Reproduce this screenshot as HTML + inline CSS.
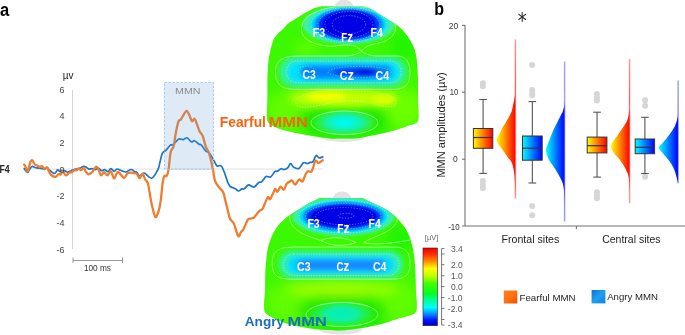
<!DOCTYPE html>
<html><head><meta charset="utf-8">
<style>
html,body{margin:0;padding:0;background:#fff;}
svg{display:block;font-family:"Liberation Sans",sans-serif;will-change:transform;}
.el{fill:#fff;font-weight:700;font-size:12.4px;}
.ax{fill:#444;font-size:9px;}
</style></head><body>
<svg width="685" height="335" viewBox="0 0 685 335">
<defs>
<radialGradient id="gTop1"><stop offset="0" stop-color="#0000e0"/><stop offset="0.5" stop-color="#0004ec"/><stop offset="0.6" stop-color="#0030ff"/><stop offset="0.7" stop-color="#0088ff"/><stop offset="0.8" stop-color="#00d8f8"/><stop offset="0.88" stop-color="#30f0a0"/><stop offset="0.95" stop-color="#40f040" stop-opacity="0.6"/><stop offset="1" stop-color="#40f000" stop-opacity="0"/></radialGradient>
<radialGradient id="gTop2"><stop offset="0" stop-color="#0000e0"/><stop offset="0.66" stop-color="#0004ec"/><stop offset="0.75" stop-color="#0040ff"/><stop offset="0.83" stop-color="#00b0ff"/><stop offset="0.89" stop-color="#00e8e0"/><stop offset="0.95" stop-color="#30f060" stop-opacity="0.7"/><stop offset="1" stop-color="#40f000" stop-opacity="0"/></radialGradient>
<radialGradient id="gMid1"><stop offset="0" stop-color="#0020f0"/><stop offset="0.45" stop-color="#0060ff"/><stop offset="0.65" stop-color="#00c0ff"/><stop offset="0.82" stop-color="#20f0a0" stop-opacity="0.7"/><stop offset="1" stop-color="#40f000" stop-opacity="0"/></radialGradient>
<radialGradient id="gMid2"><stop offset="0" stop-color="#1070ff"/><stop offset="0.45" stop-color="#1880ff"/><stop offset="0.65" stop-color="#00d0ff"/><stop offset="0.82" stop-color="#20f0a0" stop-opacity="0.7"/><stop offset="1" stop-color="#40f000" stop-opacity="0"/></radialGradient>
<radialGradient id="gYel"><stop offset="0" stop-color="#e8ff00"/><stop offset="0.5" stop-color="#c8ff00" stop-opacity="0.8"/><stop offset="1" stop-color="#60f000" stop-opacity="0"/></radialGradient>
<radialGradient id="gYel2"><stop offset="0" stop-color="#a8ff00"/><stop offset="0.5" stop-color="#90ff00" stop-opacity="0.7"/><stop offset="1" stop-color="#60f000" stop-opacity="0"/></radialGradient>
<radialGradient id="gCyan1"><stop offset="0" stop-color="#00faf0"/><stop offset="0.22" stop-color="#00f8e4"/><stop offset="0.5" stop-color="#18f0a8"/><stop offset="0.75" stop-color="#30f050" stop-opacity="0.8"/><stop offset="1" stop-color="#40f000" stop-opacity="0"/></radialGradient>
<radialGradient id="gCyan2"><stop offset="0" stop-color="#00f0c0"/><stop offset="0.45" stop-color="#10f0a0"/><stop offset="0.8" stop-color="#30f040" stop-opacity="0.6"/><stop offset="1" stop-color="#40f000" stop-opacity="0"/></radialGradient>
<filter id="b2" x="-50%" y="-50%" width="200%" height="200%"><feGaussianBlur stdDeviation="1.6"/></filter>
<filter id="b15" x="-50%" y="-50%" width="200%" height="200%"><feGaussianBlur stdDeviation="1.1"/></filter>
<filter id="b3" x="-50%" y="-50%" width="200%" height="200%"><feGaussianBlur stdDeviation="2.5"/></filter>
<filter id="b5" x="-50%" y="-50%" width="200%" height="200%"><feGaussianBlur stdDeviation="4"/></filter>
<filter id="b6" x="-50%" y="-50%" width="200%" height="200%"><feGaussianBlur stdDeviation="6"/></filter>
<linearGradient id="gCB" x1="0" y1="0" x2="0" y2="1"><stop offset="0" stop-color="#f00000"/><stop offset="0.064" stop-color="#ff2000"/><stop offset="0.16" stop-color="#ff8000"/><stop offset="0.265" stop-color="#ffff00"/><stop offset="0.36" stop-color="#c0ff00"/><stop offset="0.457" stop-color="#40ff00"/><stop offset="0.59" stop-color="#00ff20"/><stop offset="0.64" stop-color="#00ff70"/><stop offset="0.765" stop-color="#00ffff"/><stop offset="0.86" stop-color="#0080ff"/><stop offset="0.93" stop-color="#0010ff"/><stop offset="1" stop-color="#0000d0"/></linearGradient>
<linearGradient id="gWarm" x1="0" y1="0" x2="1" y2="0"><stop offset="0" stop-color="#ffff00"/><stop offset="1" stop-color="#ff0000"/></linearGradient>
<linearGradient id="gCool" x1="0" y1="0" x2="1" y2="0"><stop offset="0" stop-color="#00ffff"/><stop offset="1" stop-color="#0000ff"/></linearGradient>
<linearGradient id="gLegO" x1="0" y1="0" x2="1" y2="1"><stop offset="0" stop-color="#ff8020"/><stop offset="0.5" stop-color="#ff7010"/><stop offset="1" stop-color="#f05000"/></linearGradient>
<linearGradient id="gLegB" x1="0" y1="0" x2="1" y2="1"><stop offset="0" stop-color="#1070d0"/><stop offset="0.5" stop-color="#20a0f0"/><stop offset="1" stop-color="#1080e0"/></linearGradient>
</defs>

<!-- panel a labels -->
<text x="0" y="15.8" font-size="18" font-weight="700" fill="#000" textLength="9.2" lengthAdjust="spacingAndGlyphs">a</text>
<text x="62.8" y="78.6" font-size="10.5" fill="#222" textLength="10.8" lengthAdjust="spacingAndGlyphs">µv</text>
<text x="-0.6" y="173.4" font-size="10" font-weight="700" fill="#222" textLength="10.2" lengthAdjust="spacingAndGlyphs">F4</text>

<line x1="72.5" y1="90" x2="72.5" y2="249" stroke="#d4d4d4" stroke-width="1"/>
<line x1="24" y1="169" x2="323" y2="169" stroke="#e0e0e0" stroke-width="1"/>
<!-- scale bar -->
<g stroke="#999" stroke-width="1"><line x1="73" y1="260.5" x2="122.5" y2="260.5"/><line x1="73" y1="257.5" x2="73" y2="263"/><line x1="122.5" y1="257.5" x2="122.5" y2="263"/></g>
<text x="83.9" y="271.4" font-size="9" fill="#333" textLength="27" lengthAdjust="spacingAndGlyphs">100 ms</text>

<!-- topomaps -->
<ellipse cx="344" cy="6.5" rx="9" ry="7" fill="#e2e2e2"/>
<ellipse cx="343" cy="137" rx="22" ry="5" fill="#e4e4e4"/>
<clipPath id="head1"><path d="M322.0,6.3 C324.3,6.3 337.3,6.3 342.0,6.3 C346.7,6.3 358.9,6.1 362.0,6.3 C365.1,6.5 367.1,7.2 369.0,8.0 C370.9,8.8 375.8,11.7 377.9,13.0 C380.0,14.3 384.8,17.5 386.9,18.8 C389.0,20.1 394.0,23.0 395.8,24.2 C397.6,25.4 400.3,27.7 402.0,29.5 C403.7,31.3 408.5,37.6 410.0,40.0 C411.5,42.4 413.9,47.7 414.7,50.0 C415.5,52.3 416.5,57.7 416.8,60.0 C417.1,62.3 417.5,67.7 417.6,70.0 C417.7,72.3 418.0,76.5 418.0,80.0 C418.0,83.5 418.0,95.2 418.0,100.0 C418.0,104.8 419.1,118.0 418.0,121.0 C416.9,124.0 411.4,124.4 408.8,125.5 C406.2,126.6 398.4,129.3 395.3,130.2 C392.2,131.1 385.0,132.9 381.9,133.6 C378.8,134.3 371.2,135.8 368.4,136.3 C365.6,136.8 360.7,138.0 357.7,138.3 C354.7,138.6 345.8,138.6 342.5,138.6 C339.2,138.6 332.6,138.8 329.3,138.5 C326.0,138.2 317.7,136.9 313.8,136.3 C309.9,135.7 300.0,134.0 295.8,133.1 C291.6,132.2 281.2,129.7 277.9,128.3 C274.6,126.9 268.6,124.3 267.4,121.0 C266.2,117.7 267.4,104.8 267.4,100.0 C267.4,95.2 267.4,83.5 267.4,80.0 C267.4,76.5 267.6,72.3 267.7,70.0 C267.8,67.7 268.3,62.3 268.6,60.0 C268.9,57.7 269.9,52.3 270.5,50.0 C271.1,47.7 272.5,41.9 273.4,40.0 C274.3,38.1 276.9,34.7 278.0,33.5 C279.1,32.3 281.3,30.6 282.5,29.5 C283.7,28.4 286.2,25.1 287.9,23.7 C289.6,22.3 294.8,19.2 296.9,17.9 C299.0,16.6 303.7,13.7 305.8,12.5 C307.9,11.3 312.9,8.7 314.8,8.0 C316.7,7.3 321.2,6.5 322.0,6.3 Z"/></clipPath>
<g clip-path="url(#head1)">
<rect x="260" y="0" width="165" height="145" fill="#3cf800"/>
<g filter="url(#b6)"><ellipse cx="292" cy="110" rx="26" ry="20" fill="#64fc00"/><ellipse cx="402" cy="108" rx="22" ry="20" fill="#6cff00"/><ellipse cx="404" cy="45" rx="14" ry="16" fill="#24f400"/><ellipse cx="306" cy="48" rx="12" ry="5" fill="#70ff00"/><ellipse cx="344" cy="120" rx="46" ry="17" fill="#18e800"/></g>
<g filter="url(#b5)"><ellipse cx="343" cy="98" rx="54" ry="10" fill="#c4ff00"/></g>
<g filter="url(#b3)"><ellipse cx="326" cy="96.5" rx="20" ry="5" fill="#f0ff00"/><ellipse cx="384" cy="100" rx="12" ry="4.5" fill="#e0ff00"/></g>
<g filter="url(#b15)"><ellipse cx="348.7" cy="24.8" rx="46" ry="19.5" fill="#40f0a0"/><ellipse cx="348.7" cy="24.7" rx="39.5" ry="17.4" fill="#00e4f0"/><ellipse cx="348.7" cy="24.6" rx="35" ry="16.4" fill="#0090ff"/><ellipse cx="348.7" cy="24.6" rx="31" ry="15.6" fill="#0030ff"/><ellipse cx="348.7" cy="24.6" rx="26.5" ry="13.8" fill="#0000e4"/></g>
<g filter="url(#b3)"><rect x="279" y="57" width="128" height="30" rx="15" fill="#30f0a0"/><rect x="287" y="61.5" width="113" height="21" rx="10.5" fill="#00e0ff"/><rect x="300" y="65" width="92" height="14" rx="7" fill="#0080ff"/><ellipse cx="355" cy="72" rx="22" ry="6" fill="#0040f8"/><ellipse cx="367" cy="72.5" rx="11" ry="5" fill="#0010e0"/></g>
<ellipse cx="344.4" cy="122.5" rx="36" ry="15" fill="url(#gCyan1)"/>
<g fill="none" stroke="#fff" stroke-width="0.6" stroke-opacity="0.75"><path d="M301.5,30 C300,12 330,6 348,6 C370,6 396,12 395.5,28 C395,38 385,42 375,44 C368,45 364,48 361.7,51.2 C359,48 355,45 348,45 C338,45 333,47 328,46 C315,45 302,40 301.5,30 Z"/><path d="M275.5,72 C275.5,60 282,56 300,56 L345,56 C352,56 358,54 361.7,51.2 C365,54 370,56 378,56 L397,56 C406,56 410,62 410,72 C410,84 406,89.4 393,89.4 L295,89.4 C281,89.4 275.5,84 275.5,72 Z"/><ellipse cx="344.4" cy="122.8" rx="33.5" ry="11.8"/></g>
<g fill="none" stroke="#fff" stroke-width="0.7" stroke-opacity="0.6" stroke-dasharray="1.2 1.6"><ellipse cx="348.9" cy="24.6" rx="16.8" ry="9"/><ellipse cx="348.9" cy="24.6" rx="24" ry="13"/><ellipse cx="348.9" cy="24.6" rx="31" ry="15.7"/><ellipse cx="348.9" cy="24.6" rx="38" ry="17.2"/><rect x="286.4" y="61" width="114.9" height="21.8" rx="10.9"/><ellipse cx="359.7" cy="71.9" rx="31.7" ry="5.5"/><ellipse cx="306.6" cy="71.5" rx="8.2" ry="5.5"/><path d="M295.5,103 C295,95 315,90.5 335,90.5 C365,90.5 396,93 396,102 C396,108 388,108 375,104 C360,100 345,100 330,103 C315,107 296,110 295.5,103 Z"/></g>
</g>
<text x="312.8" y="37" class="el" textLength="12.5" lengthAdjust="spacingAndGlyphs">F3</text>
<text x="341.3" y="41.5" class="el" textLength="11.700000000000001" lengthAdjust="spacingAndGlyphs">F<tspan font-size="15">z</tspan></text>
<text x="370.4" y="37.3" class="el" textLength="12.4" lengthAdjust="spacingAndGlyphs">F4</text>
<text x="302.5" y="79.4" class="el" textLength="13.3" lengthAdjust="spacingAndGlyphs">C3</text>
<text x="339.7" y="79.8" class="el" textLength="14.200000000000001" lengthAdjust="spacingAndGlyphs">C<tspan font-size="15">z</tspan></text>
<text x="375.4" y="79.5" class="el" textLength="13.8" lengthAdjust="spacingAndGlyphs">C4</text>
<ellipse cx="342" cy="198.5" rx="9" ry="7" fill="#e2e2e2"/>
<ellipse cx="340.5" cy="329" rx="22" ry="5.5" fill="#e4e4e4"/>
<clipPath id="head2"><path d="M319.7,198.1 C322.1,198.1 335.2,198.1 340.0,198.1 C344.8,198.1 357.9,197.9 361.0,198.1 C364.1,198.3 365.2,199.4 367.0,200.2 C368.8,201.0 374.3,203.7 376.5,204.8 C378.7,205.9 384.3,208.3 386.2,209.4 C388.1,210.5 391.1,212.9 392.5,214.0 C393.9,215.1 396.4,217.4 397.9,219.1 C399.4,220.8 404.2,226.5 405.6,228.8 C407.0,231.1 409.3,236.2 410.1,238.5 C410.9,240.8 412.3,246.0 412.8,248.3 C413.3,250.6 414.1,255.5 414.4,258.0 C414.7,260.5 415.2,266.3 415.4,270.0 C415.6,273.7 415.8,285.1 415.9,290.0 C416.0,294.9 417.8,308.6 415.9,311.9 C414.0,315.2 403.4,316.8 399.8,318.1 C396.2,319.4 388.4,322.0 384.9,323.0 C381.4,324.0 372.9,325.9 369.9,326.5 C366.9,327.1 362.9,327.8 359.5,328.3 C356.1,328.8 345.7,330.4 340.5,330.5 C335.3,330.6 319.5,329.5 314.7,329.0 C309.9,328.5 302.5,327.2 299.0,326.5 C295.5,325.8 288.9,324.6 284.9,323.0 C280.9,321.4 267.4,316.5 265.1,312.6 C262.8,308.8 265.1,295.0 265.1,290.0 C265.1,285.0 265.2,273.7 265.4,270.0 C265.6,266.3 266.3,260.3 266.5,258.0 C266.7,255.7 267.2,251.7 267.5,250.0 C267.8,248.3 268.4,245.6 269.0,243.8 C269.6,242.0 271.5,236.9 272.5,234.8 C273.5,232.7 276.2,227.9 277.9,225.8 C279.6,223.7 284.2,219.0 286.9,216.9 C289.6,214.8 298.6,209.5 301.2,207.9 C303.8,206.3 307.3,203.9 309.0,203.0 C310.7,202.1 314.4,200.6 315.6,200.0 C316.8,199.4 319.2,198.3 319.7,198.1 Z"/></clipPath>
<g clip-path="url(#head2)">
<rect x="255" y="190" width="170" height="145" fill="#3cf800"/>
<g filter="url(#b6)"><ellipse cx="291" cy="302" rx="26" ry="20" fill="#60fc00"/><ellipse cx="398" cy="300" rx="22" ry="20" fill="#60fc00"/><ellipse cx="401" cy="237" rx="14" ry="16" fill="#24f400"/><ellipse cx="342" cy="312" rx="44" ry="18" fill="#18e800"/><ellipse cx="342" cy="288" rx="55" ry="7" fill="#a8ff00"/></g>
<g filter="url(#b15)"><ellipse cx="343.4" cy="216.6" rx="51" ry="19.5" fill="#40f0a0"/><ellipse cx="343.4" cy="216.6" rx="45.5" ry="16.8" fill="#00e4f0"/><ellipse cx="343.4" cy="216.4" rx="41" ry="14.6" fill="#0090ff"/><ellipse cx="343.4" cy="216.3" rx="37.7" ry="12.8" fill="#0030ff"/><ellipse cx="343.8" cy="216.2" rx="33" ry="10.8" fill="#0000e4"/></g>
<g filter="url(#b3)"><rect x="279" y="251" width="124" height="27" rx="13" fill="#30f0b0"/><rect x="287" y="256" width="108" height="18" rx="9" fill="#00d8ff"/><rect x="297" y="259.5" width="88" height="11" rx="5.5" fill="#1888ff"/></g>
<ellipse cx="342" cy="314" rx="36" ry="15" fill="url(#gCyan2)"/>
<g fill="none" stroke="#fff" stroke-width="0.6" stroke-opacity="0.75"><path d="M296,202 C291,208 289,214 290,220 C292,229 302,235 320.9,240.4 C330,236.5 345,236.5 355.7,242.5 C345,247 330,246 320.9,240.4"/><path d="M391,202 C396,208 398,215 397,221 C395,228 385,233 375,237 C370,239 366,241 363.8,242.5 C372,245 390,244 410,240"/><path d="M272.2,263 C272.2,251 278,247 295,247 L395,247 C406,247 410,253 410,263 C410,275 406,279.1 393,279.1 L290,279.1 C277,279.1 272.2,275 272.2,263 Z"/><ellipse cx="342" cy="314.5" rx="36" ry="12"/></g>
<g fill="none" stroke="#fff" stroke-width="0.7" stroke-opacity="0.6" stroke-dasharray="1.2 1.6"><ellipse cx="346" cy="215.8" rx="7.8" ry="2.5"/><ellipse cx="344.2" cy="216.2" rx="28.7" ry="8.6"/><ellipse cx="343.4" cy="216.3" rx="37.7" ry="12.8"/><ellipse cx="343.4" cy="216.6" rx="44.3" ry="16.4"/><rect x="283.1" y="254" width="116" height="21.4" rx="10.7"/></g>
</g>
<text x="307.4" y="228.1" class="el" textLength="12.3" lengthAdjust="spacingAndGlyphs">F3</text>
<text x="337.3" y="232.7" class="el" textLength="12.200000000000001" lengthAdjust="spacingAndGlyphs">F<tspan font-size="15">z</tspan></text>
<text x="368.5" y="228.1" class="el" textLength="12.200000000000001" lengthAdjust="spacingAndGlyphs">F4</text>
<text x="297.09999999999997" y="271" class="el" textLength="13.5" lengthAdjust="spacingAndGlyphs">C3</text>
<text x="336.4" y="271" class="el" textLength="12.9" lengthAdjust="spacingAndGlyphs">C<tspan font-size="15">z</tspan></text>
<text x="373.0" y="271" class="el" textLength="13.5" lengthAdjust="spacingAndGlyphs">C4</text>

<!-- traces -->
<path d="M24.2,168.6 C24.7,169.2 26.4,172.2 27.3,172.4 C28.2,172.6 28.6,170.8 29.4,169.8 C30.2,168.8 30.9,166.8 32.0,166.5 C33.0,166.2 34.0,167.3 35.7,167.7 C37.4,168.0 40.9,168.3 42.4,168.6 C43.9,168.9 43.7,169.5 44.5,169.3 C45.3,169.2 46.3,167.6 47.1,167.7 C47.9,167.8 48.0,168.8 49.2,169.8 C50.4,170.8 53.0,173.5 54.4,173.5 C55.8,173.5 56.7,170.2 57.6,169.8 C58.5,169.5 59.0,171.3 59.7,171.4 C60.4,171.5 60.9,170.5 61.8,170.4 C62.7,170.3 63.9,170.6 64.9,170.9 C65.9,171.2 66.5,172.2 67.6,172.2 C68.7,172.2 70.0,171.2 71.3,170.7 C72.6,170.2 74.0,169.5 75.4,169.1 C76.8,168.7 78.2,168.9 79.6,168.4 C81.0,167.9 82.8,166.5 83.8,166.3 C84.8,166.1 85.0,166.5 85.9,167.0 C86.8,167.5 88.0,168.8 89.0,169.1 C90.0,169.4 91.0,168.5 92.1,168.6 C93.1,168.7 94.2,169.7 95.3,169.6 C96.3,169.5 97.4,167.8 98.4,168.0 C99.4,168.2 100.5,170.4 101.5,170.7 C102.5,171.0 103.7,169.4 104.7,169.6 C105.8,169.8 106.8,171.9 107.8,171.7 C108.8,171.5 109.9,168.6 110.9,168.6 C112.0,168.6 113.1,171.4 114.1,171.5 C115.1,171.6 115.8,169.2 117.0,169.0 C118.2,168.8 119.5,170.0 121.0,170.5 C122.5,171.0 124.3,172.2 126.0,172.0 C127.7,171.8 129.6,169.6 131.0,169.5 C132.4,169.4 133.5,171.0 134.5,171.5 C135.5,172.0 136.1,171.8 137.0,172.5 C137.9,173.2 138.5,175.9 139.7,176.0 C140.9,176.1 142.2,172.6 144.2,173.0 C146.2,173.4 149.3,178.8 151.6,178.2 C153.9,177.6 156.5,172.3 157.9,169.6 C159.3,166.9 159.2,164.8 160.0,162.0 C160.8,159.2 161.4,155.1 162.4,153.1 C163.4,151.1 164.7,151.5 166.1,150.1 C167.5,148.7 169.5,145.8 170.6,144.9 C171.7,144.0 171.4,145.9 172.8,144.9 C174.2,143.9 177.1,139.9 178.8,139.0 C180.6,138.1 181.9,139.9 183.3,139.7 C184.7,139.5 185.6,137.4 187.0,137.8 C188.4,138.2 190.2,141.4 191.5,141.9 C192.8,142.4 193.2,140.3 194.5,140.7 C195.8,141.1 197.9,143.5 199.0,144.2 C200.1,144.9 200.1,143.8 201.2,144.9 C202.3,146.0 204.4,149.7 205.7,150.9 C206.9,152.2 207.5,151.0 208.7,152.4 C209.9,153.8 211.7,156.9 213.1,159.1 C214.5,161.3 215.8,164.7 216.9,165.8 C218.0,166.9 219.1,165.4 219.9,165.5 C220.7,165.6 221.1,165.5 221.8,166.6 C222.5,167.7 223.6,170.4 224.2,172.0 C224.8,173.6 225.0,174.2 225.6,175.9 C226.2,177.6 226.9,180.4 227.7,182.2 C228.4,183.9 229.2,185.5 230.1,186.4 C230.9,187.3 231.9,187.2 232.8,187.6 C233.7,188.0 234.6,188.2 235.5,188.8 C236.4,189.4 237.4,191.0 238.5,191.0 C239.6,191.0 240.9,189.2 241.8,188.9 C242.8,188.6 243.1,189.6 244.2,188.9 C245.3,188.2 247.2,185.4 248.4,184.9 C249.6,184.4 250.3,185.8 251.3,186.1 C252.3,186.4 253.1,187.5 254.3,186.9 C255.5,186.3 257.5,183.3 258.7,182.5 C259.9,181.7 260.4,182.8 261.6,181.8 C262.8,180.8 264.6,177.4 266.1,176.6 C267.6,175.8 269.1,177.9 270.6,177.0 C272.1,176.1 274.0,172.2 275.1,171.3 C276.2,170.4 276.3,171.7 277.3,171.3 C278.3,170.9 279.9,169.0 281.0,168.7 C282.1,168.4 282.9,169.8 284.0,169.6 C285.1,169.4 286.7,168.6 287.8,167.6 C288.9,166.6 289.7,163.6 290.7,163.6 C291.7,163.6 292.3,166.5 293.7,167.3 C295.1,168.1 297.4,169.2 299.0,168.4 C300.6,167.6 302.0,163.5 303.4,162.7 C304.8,161.9 306.1,163.6 307.2,163.6 C308.3,163.6 309.1,162.7 310.1,162.4 C311.1,162.1 312.1,162.8 313.1,161.6 C314.1,160.4 315.1,156.0 316.1,155.4 C317.1,154.8 318.0,157.7 319.1,157.9 C320.2,158.2 322.2,157.1 322.8,156.9" fill="none" stroke="#1c74c8" stroke-width="1.7" stroke-linejoin="round" stroke-linecap="round"/>
<path d="M24.2,164.6 C24.4,165.0 25.2,166.1 25.7,167.2 C26.2,168.3 26.8,171.3 27.3,171.4 C27.8,171.5 28.4,169.3 28.9,167.7 C29.4,166.1 29.9,163.2 30.4,162.0 C30.9,160.8 31.5,160.1 32.0,160.2 C32.5,160.3 33.1,161.8 33.6,162.5 C34.1,163.2 34.4,164.1 35.1,164.6 C35.8,165.1 36.9,165.3 37.7,165.7 C38.5,166.1 39.1,167.1 39.8,167.2 C40.5,167.3 41.1,165.9 41.9,166.2 C42.7,166.5 43.6,168.6 44.5,168.8 C45.4,169.0 46.3,167.0 47.1,167.5 C47.9,168.0 48.5,170.7 49.2,171.9 C49.9,173.2 50.2,174.2 51.3,175.0 C52.3,175.8 54.3,177.1 55.5,176.9 C56.7,176.7 57.7,174.4 58.6,174.0 C59.5,173.6 60.0,174.9 60.7,174.5 C61.4,174.1 62.0,171.3 62.8,171.4 C63.6,171.5 64.7,174.4 65.4,175.0 C66.1,175.6 66.5,175.2 67.1,174.8 C67.7,174.4 68.4,173.1 69.2,172.7 C70.0,172.3 70.9,172.6 71.8,172.2 C72.7,171.8 73.6,170.4 74.4,170.1 C75.2,169.8 75.8,170.7 76.5,170.4 C77.2,170.1 77.8,168.5 78.6,168.4 C79.4,168.3 80.3,170.2 81.2,170.1 C82.1,170.0 83.0,167.7 83.8,168.0 C84.6,168.3 85.1,170.6 85.9,171.7 C86.7,172.8 87.5,174.2 88.5,174.3 C89.5,174.4 91.1,173.1 92.1,172.2 C93.0,171.3 93.5,170.0 94.2,169.1 C94.9,168.2 95.6,166.7 96.3,166.7 C97.0,166.7 97.6,167.6 98.4,169.1 C99.2,170.6 100.0,174.9 101.0,175.4 C102.0,175.9 103.0,172.2 104.1,172.2 C105.1,172.2 106.2,175.6 107.3,175.4 C108.4,175.2 109.8,170.7 110.9,171.2 C112.0,171.7 112.9,178.4 114.1,178.5 C115.3,178.6 116.3,172.1 118.0,172.0 C119.7,171.9 122.3,177.8 124.0,178.0 C125.7,178.2 126.3,173.8 128.0,173.0 C129.7,172.2 132.6,172.9 134.0,173.0 C135.4,173.1 135.8,172.8 136.7,173.7 C137.6,174.6 138.7,178.2 139.7,178.2 C140.7,178.2 141.8,173.6 142.7,173.7 C143.6,173.8 144.0,177.4 144.9,179.0 C145.8,180.6 147.0,180.7 147.9,183.4 C148.8,186.1 149.3,191.4 150.1,195.4 C150.8,199.4 151.5,203.7 152.4,207.3 C153.3,210.9 154.4,216.2 155.4,217.0 C156.4,217.8 157.5,214.4 158.4,211.8 C159.3,209.2 159.9,206.3 160.6,201.3 C161.3,196.3 162.2,186.1 162.8,181.9 C163.4,177.7 163.7,177.0 164.3,176.0 C164.9,175.0 165.9,177.0 166.6,176.0 C167.3,175.0 167.8,173.9 168.5,170.0 C169.2,166.1 169.8,156.3 170.6,152.4 C171.4,148.5 172.7,149.6 173.6,146.4 C174.5,143.2 175.0,137.2 175.8,133.0 C176.6,128.8 177.7,123.5 178.5,121.3 C179.3,119.1 179.8,120.9 180.7,119.8 C181.6,118.7 182.7,116.1 183.7,114.6 C184.7,113.1 185.7,110.7 186.7,110.9 C187.7,111.1 188.8,114.3 189.7,116.0 C190.6,117.7 191.2,120.8 192.0,121.3 C192.8,121.8 193.8,118.5 194.5,118.7 C195.2,119.0 195.6,120.8 196.4,122.8 C197.2,124.8 198.4,128.8 199.4,131.0 C200.4,133.2 201.6,133.4 202.7,136.0 C203.8,138.6 204.7,143.7 205.7,146.4 C206.7,149.1 207.8,150.2 208.7,152.4 C209.6,154.7 210.2,156.9 210.9,159.9 C211.6,162.9 212.4,166.8 213.1,170.3 C213.8,173.9 214.0,178.3 215.1,181.2 C216.2,184.1 218.2,186.0 219.6,187.9 C221.0,189.8 222.3,190.2 223.3,192.4 C224.3,194.6 224.6,197.8 225.5,201.3 C226.4,204.8 227.8,210.4 228.5,213.3 C229.2,216.2 229.1,216.9 230.0,218.6 C230.9,220.3 232.8,221.6 233.7,223.3 C234.6,225.0 234.9,226.8 235.7,229.0 C236.5,231.2 237.5,235.8 238.4,236.3 C239.3,236.8 240.1,233.4 241.0,232.2 C241.9,231.0 242.5,231.1 243.6,229.0 C244.7,226.9 246.7,221.3 247.8,219.6 C248.9,217.9 249.4,218.9 250.4,218.6 C251.4,218.2 252.9,218.4 254.0,217.5 C255.1,216.6 256.2,214.5 257.2,213.4 C258.2,212.3 258.9,211.5 259.8,210.7 C260.7,209.9 262.0,209.8 262.8,208.6 C263.6,207.4 264.0,205.3 264.9,203.4 C265.8,201.5 267.1,197.8 268.0,197.1 C268.9,196.4 269.2,199.9 270.1,199.2 C271.0,198.5 272.3,194.7 273.2,193.0 C274.1,191.3 274.6,189.0 275.3,188.8 C276.0,188.6 276.5,192.2 277.4,191.9 C278.3,191.6 279.4,187.0 280.5,186.7 C281.6,186.3 282.6,190.3 283.7,189.8 C284.8,189.3 285.8,185.0 286.8,183.6 C287.8,182.2 289.0,182.0 289.9,181.5 C290.8,181.0 291.1,179.9 292.0,180.4 C292.9,180.9 294.0,184.8 295.2,184.6 C296.4,184.4 298.1,179.9 299.3,179.4 C300.5,178.9 301.4,182.4 302.5,181.5 C303.6,180.6 304.7,175.9 305.6,174.2 C306.5,172.5 306.9,171.8 307.9,171.3 C308.9,170.8 310.4,173.0 311.6,171.3 C312.9,169.6 314.3,162.3 315.4,160.9 C316.5,159.5 317.2,163.2 318.4,163.1 C319.6,163.0 322.1,160.6 322.8,160.1" fill="none" stroke="#ef7d2f" stroke-width="2.3" stroke-linejoin="round" stroke-linecap="round"/>
<g class="ax" text-anchor="end">
<text x="64.5" y="92.5">6</text>
<text x="64.5" y="119">4</text>
<text x="64.5" y="146">2</text>
<text x="64.5" y="172.5">0</text>
<text x="64.5" y="199">-2</text>
<text x="64.5" y="225.5">-4</text>
<text x="64.5" y="253">-6</text>
</g>
<!-- MMN box (semi transparent overlay) -->
<rect x="164.5" y="82.5" width="49" height="86.8" fill="#5b9bd5" fill-opacity="0.2" stroke="#abc9ea" stroke-width="1" stroke-dasharray="2.5 1.5"/>
<text x="175" y="94.3" font-size="9.6" fill="#8a8a8a" textLength="25.5" lengthAdjust="spacingAndGlyphs">MMN</text>

<g font-size="14" font-weight="700" fill="#f8640e"><text x="219.7" y="126.6" textLength="46.3" lengthAdjust="spacingAndGlyphs">Fearful</text><text x="268.6" y="126.6" textLength="39.3" lengthAdjust="spacingAndGlyphs">MMN</text></g>
<g font-size="13.6" font-weight="700" fill="#1a6cc0"><text x="244.8" y="325.5" textLength="39.3" lengthAdjust="spacingAndGlyphs">Angry</text><text x="287.6" y="325.5" textLength="39.2" lengthAdjust="spacingAndGlyphs">MMN</text></g>

<!-- colorbar -->
<text x="424.8" y="240" font-size="8" fill="#666" textLength="13.5" lengthAdjust="spacingAndGlyphs">[µV]</text>
<rect x="423" y="248" width="14.4" height="77.7" fill="url(#gCB)" stroke="#222" stroke-width="0.6"/>
<g stroke="#555" stroke-width="0.8">
<line x1="441.6" y1="248.6" x2="441.6" y2="325"/>
<line x1="441.6" y1="248.6" x2="444.5" y2="248.6"/><line x1="441.6" y1="254" x2="444.5" y2="254"/>
<line x1="441.6" y1="264.7" x2="444.5" y2="264.7"/><line x1="441.6" y1="275.8" x2="444.5" y2="275.8"/>
<line x1="441.6" y1="286.6" x2="444.5" y2="286.6"/><line x1="441.6" y1="297.6" x2="444.5" y2="297.6"/>
<line x1="441.6" y1="308.6" x2="444.5" y2="308.6"/><line x1="441.6" y1="319.5" x2="444.5" y2="319.5"/>
<line x1="441.6" y1="325" x2="444.5" y2="325"/>
</g>
<g font-size="8.5" fill="#555">
<text x="451" y="252.2">3.4</text>
<text x="451" y="267.8">2.0</text>
<text x="451" y="278.9">1.0</text>
<text x="451" y="289.7">0.0</text>
<text x="447.8" y="300.8">-1.0</text>
<text x="447.8" y="311.8">-2.0</text>
<text x="447.8" y="328.2">-3.4</text>
</g>

<!-- panel b -->
<text x="434.3" y="15.2" font-size="18" font-weight="700" fill="#000" textLength="9.8" lengthAdjust="spacingAndGlyphs">b</text>
<g stroke="#2a2a2a" stroke-width="1.05" stroke-linecap="round"><line x1="522.2" y1="12.4" x2="522.2" y2="21.5"/><line x1="518.8" y1="14.4" x2="525.6" y2="19.5"/><line x1="518.8" y1="19.5" x2="525.6" y2="14.4"/></g>
<g font-size="9.8" fill="#333">
<text x="448.8" y="28.6" textLength="9.5" lengthAdjust="spacingAndGlyphs">20</text>
<text x="449.7" y="94.9" textLength="8.5" lengthAdjust="spacingAndGlyphs">10</text>
<text x="453.1" y="161.9" textLength="4.7" lengthAdjust="spacingAndGlyphs">0</text>
<text x="448.2" y="230.4" textLength="11.5" lengthAdjust="spacingAndGlyphs">-10</text>
</g>
<text transform="translate(444.7,177.6) rotate(-90)" font-size="10.8" fill="#222" textLength="105.2" lengthAdjust="spacingAndGlyphs">MMN amplitudes (µv)</text>
<g stroke="#707070" stroke-width="1.1">
<line x1="465" y1="25" x2="465" y2="226"/>
<line x1="462" y1="25.4" x2="465" y2="25.4"/><line x1="462" y1="92.2" x2="465" y2="92.2"/>
<line x1="462" y1="159.2" x2="465" y2="159.2"/><line x1="462" y1="226" x2="685" y2="226"/>
<line x1="576.4" y1="226" x2="576.4" y2="229"/>
</g>
<text x="501.6" y="242.8" font-size="10.6" fill="#222" textLength="57.7" lengthAdjust="spacingAndGlyphs">Frontal sites</text>
<text x="602.2" y="242.8" font-size="10.6" fill="#222" textLength="58.3" lengthAdjust="spacingAndGlyphs">Central sites</text>
<path d="M515.4,39.4 C515.3,47.8 515.1,80.3 515.0,90.0 C514.9,99.7 514.9,95.0 514.6,97.5 C514.3,100.0 513.7,102.4 513.1,104.9 C512.5,107.4 512.2,109.9 511.2,112.4 C510.2,114.9 508.6,117.4 507.2,119.9 C505.8,122.4 504.1,124.8 502.7,127.3 C501.3,129.8 500.0,132.8 499.0,134.8 C498.0,136.8 496.8,138.0 496.7,139.5 C496.6,141.0 497.2,142.3 498.2,144.0 C499.2,145.7 501.1,147.7 502.7,149.9 C504.3,152.1 506.4,155.3 507.9,157.4 C509.4,159.5 510.8,160.6 511.7,162.6 C512.6,164.6 513.1,166.9 513.6,169.3 C514.1,171.7 514.3,173.4 514.6,176.8 C514.9,180.2 515.1,186.4 515.2,190.0 C515.3,193.6 515.4,197.2 515.4,198.6 L515.4,198.6 L515.4,39.4 Z" fill="url(#gWarm)"/><line x1="515.4" y1="39.4" x2="515.4" y2="198.6" stroke="#ff2020" stroke-width="1.5" stroke-opacity="0.45"/>
<path d="M564.6,62.0 C564.6,68.3 564.9,91.9 564.6,100.0 C564.4,108.1 563.7,107.9 563.1,110.4 C562.5,112.9 561.9,112.9 560.9,114.9 C559.9,116.9 558.5,119.9 557.2,122.4 C556.0,124.9 554.5,127.4 553.4,129.9 C552.3,132.4 551.4,134.8 550.4,137.3 C549.4,139.8 548.2,142.8 547.5,144.8 C546.8,146.8 546.1,148.0 546.0,149.5 C545.9,151.0 546.2,152.3 546.7,154.0 C547.2,155.7 547.8,157.7 549.0,159.9 C550.2,162.1 552.6,164.9 554.2,167.4 C555.8,169.9 557.3,172.4 558.7,174.9 C560.1,177.4 561.5,179.8 562.4,182.3 C563.3,184.8 563.6,186.9 563.9,189.8 C564.2,192.8 564.3,194.7 564.4,200.0 C564.5,205.3 564.6,218.0 564.6,221.6 L564.6,221.6 L564.6,62 Z" fill="url(#gCool)"/><line x1="564.6" y1="61.6" x2="564.6" y2="221.6" stroke="#3030ff" stroke-width="1.5" stroke-opacity="0.45"/>
<path d="M629.6,59.0 C629.5,66.7 629.4,96.1 629.3,105.0 C629.2,113.9 629.2,110.0 628.9,112.5 C628.6,115.0 628.4,117.4 627.4,119.9 C626.4,122.4 624.5,124.9 622.9,127.4 C621.3,129.9 619.4,132.4 617.7,134.9 C616.0,137.4 613.6,140.3 612.5,142.3 C611.4,144.3 610.9,145.1 611.0,146.7 C611.1,148.3 612.0,150.0 613.2,151.9 C614.4,153.8 616.6,155.7 618.4,157.9 C620.1,160.2 622.2,162.9 623.7,165.4 C625.2,167.9 626.5,170.6 627.4,172.8 C628.3,175.0 628.5,175.9 628.9,178.8 C629.2,181.7 629.4,185.9 629.5,190.0 C629.6,194.1 629.6,201.0 629.6,203.2 L629.6,203.2 L629.6,59 Z" fill="url(#gWarm)"/><line x1="629.6" y1="59" x2="629.6" y2="203.2" stroke="#ff2020" stroke-width="1.5" stroke-opacity="0.45"/>
<path d="M678.1,80.6 C678.1,85.5 678.1,103.8 678.0,110.0 C677.9,116.2 678.0,115.3 677.5,117.9 C677.0,120.5 676.2,122.9 675.1,125.4 C674.0,127.9 672.2,130.6 670.7,132.8 C669.2,135.0 667.8,136.8 666.2,138.8 C664.6,140.8 662.2,143.4 661.0,144.8 C659.8,146.2 658.6,146.3 658.7,147.5 C658.8,148.7 660.3,150.2 661.7,151.9 C663.1,153.6 665.3,155.9 666.9,157.9 C668.5,159.9 670.1,161.9 671.4,163.9 C672.6,165.9 673.5,167.7 674.4,169.9 C675.3,172.1 676.0,175.1 676.6,177.3 C677.2,179.5 677.9,182.3 678.1,183.3 L678.1,183.3 L678.1,80.6 Z" fill="url(#gCool)"/><line x1="678.1" y1="80.6" x2="678.1" y2="183.4" stroke="#3030ff" stroke-width="1.5" stroke-opacity="0.45"/>
<circle cx="482.9" cy="83.3" r="3" fill="#d6d6d6"/><circle cx="482.9" cy="86.3" r="3" fill="#d6d6d6"/><circle cx="482.9" cy="181" r="3" fill="#d6d6d6"/><circle cx="482.9" cy="184.7" r="3" fill="#d6d6d6"/><circle cx="482.9" cy="188.2" r="3" fill="#d6d6d6"/>
<g stroke="#555" stroke-width="1.1"><line x1="483.1" y1="99.5" x2="483.1" y2="173.4"/><line x1="479.3" y1="99.5" x2="486.90000000000003" y2="99.5"/><line x1="479.3" y1="173.4" x2="486.90000000000003" y2="173.4"/></g><rect x="473.4" y="128.5" width="19.400000000000034" height="19.80000000000001" fill="url(#gWarm)" stroke="#333" stroke-width="1"/><line x1="473.4" y1="137.5" x2="492.8" y2="137.5" stroke="#333" stroke-width="1.2"/>
<circle cx="532.2" cy="65.1" r="3" fill="#d6d6d6"/><circle cx="532.2" cy="90" r="3" fill="#d6d6d6"/><circle cx="532.2" cy="93" r="3" fill="#d6d6d6"/><circle cx="532.2" cy="95.3" r="3" fill="#d6d6d6"/><circle cx="532.2" cy="206" r="3" fill="#d6d6d6"/><circle cx="532.2" cy="215.2" r="3" fill="#d6d6d6"/>
<g stroke="#555" stroke-width="1.1"><line x1="532.35" y1="101.6" x2="532.35" y2="183"/><line x1="528.5500000000001" y1="101.6" x2="536.15" y2="101.6"/><line x1="528.5500000000001" y1="183" x2="536.15" y2="183"/></g><rect x="522.5" y="136" width="19.700000000000045" height="24.19999999999999" fill="url(#gCool)" stroke="#333" stroke-width="1"/><line x1="522.5" y1="148.2" x2="542.2" y2="148.2" stroke="#333" stroke-width="1.2"/>
<circle cx="596.9" cy="93.9" r="3" fill="#d6d6d6"/><circle cx="596.9" cy="97.5" r="3" fill="#d6d6d6"/><circle cx="596.9" cy="100.5" r="3" fill="#d6d6d6"/><circle cx="596.9" cy="192.2" r="3" fill="#d6d6d6"/><circle cx="596.9" cy="195.6" r="3" fill="#d6d6d6"/><circle cx="596.9" cy="198.2" r="3" fill="#d6d6d6"/>
<g stroke="#555" stroke-width="1.1"><line x1="597.05" y1="112.2" x2="597.05" y2="177.1"/><line x1="593.25" y1="112.2" x2="600.8499999999999" y2="112.2"/><line x1="593.25" y1="177.1" x2="600.8499999999999" y2="177.1"/></g><rect x="587.2" y="137.1" width="19.699999999999932" height="15.800000000000011" fill="url(#gWarm)" stroke="#333" stroke-width="1"/><line x1="587.2" y1="145.7" x2="606.9" y2="145.7" stroke="#333" stroke-width="1.2"/>
<circle cx="645.1" cy="100.3" r="3" fill="#d6d6d6"/><circle cx="645.1" cy="105.7" r="3" fill="#d6d6d6"/><circle cx="645.1" cy="176.7" r="3" fill="#d6d6d6"/>
<g stroke="#555" stroke-width="1.1"><line x1="644.9000000000001" y1="117.3" x2="644.9000000000001" y2="173.5"/><line x1="641.1000000000001" y1="117.3" x2="648.7" y2="117.3"/><line x1="641.1000000000001" y1="173.5" x2="648.7" y2="173.5"/></g><rect x="635.2" y="139" width="19.399999999999977" height="14.699999999999989" fill="url(#gCool)" stroke="#333" stroke-width="1"/><line x1="635.2" y1="147.3" x2="654.6" y2="147.3" stroke="#333" stroke-width="1.2"/>
<!-- legend -->
<rect x="503.8" y="290.5" width="13.5" height="13" fill="url(#gLegO)"/>
<text x="519.5" y="300.7" font-size="9.8" fill="#1e1e1e" textLength="56.1" lengthAdjust="spacingAndGlyphs">Fearful MMN</text>
<rect x="591.6" y="290" width="13.8" height="13.4" fill="url(#gLegB)"/>
<text x="607.2" y="300.1" font-size="9.8" fill="#1e1e1e" textLength="50.8" lengthAdjust="spacingAndGlyphs">Angry MMN</text>
</svg>
</body></html>
